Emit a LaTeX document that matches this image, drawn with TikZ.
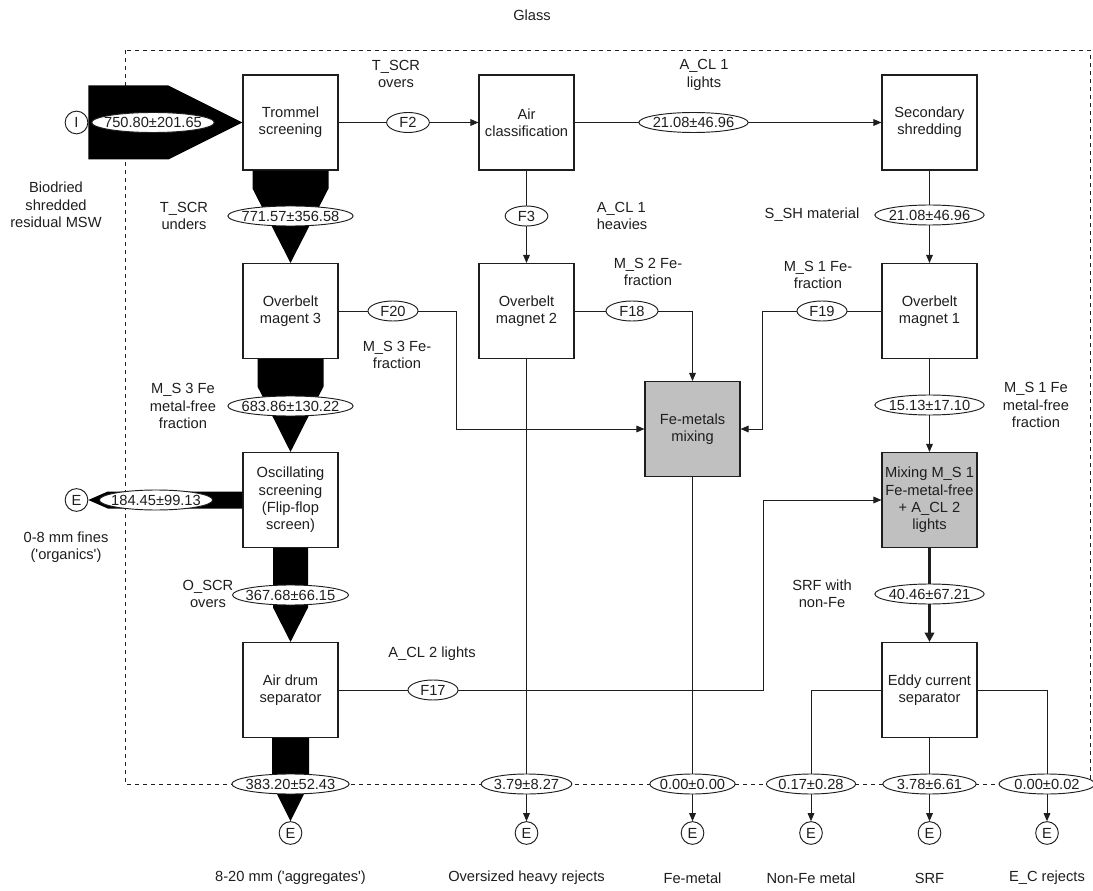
\documentclass[tikz,border=0pt]{standalone}
\usepackage{fontspec}
\setmainfont{Liberation Sans}
\usetikzlibrary{shapes.geometric,arrows.meta,calc}
\pgfdeclarelayer{background}
\pgfsetlayers{background,main}
\definecolor{boxgray}{RGB}{192,192,192}
\definecolor{ink}{RGB}{30,30,30}
\begin{document}
\begin{tikzpicture}[x=0.75pt,y=-0.75pt,
  every node/.style={font=\fontsize{11pt}{13pt}\selectfont, text=ink},
  unit/.style={draw=ink, line width=0.8pt, minimum width=71.25pt, minimum height=71.25pt, inner sep=1pt, align=center},
  mixer/.style={unit, fill=boxgray},
  flow/.style={ellipse, draw=ink, fill=white, line width=0.7pt, inner xsep=-25pt, inner ysep=0pt, minimum height=15pt, minimum width=#1},
  flow/.default=82pt,
  term/.style={circle, draw=ink, fill=white, line width=0.7pt, minimum size=17pt, inner sep=0pt},
  note/.style={align=center, inner sep=0pt},
  conn/.style={draw=ink, line width=0.7pt, line join=miter},
  tip/.style={-{Triangle[length=6pt,width=5pt]}},
  boundary/.style={draw=ink, line width=0.6pt, dash pattern=on 3pt off 3pt},
]
\path[use as bounding box] (0,0) rectangle (1093,891);

% process units
\node[unit] (trommel) at (290.5,122.5) {Trommel\\screening};
\node[unit] (aircl)   at (526.5,122.5) {Air\\classification};
\node[unit] (secshr)  at (929.5,122.5) {Secondary\\shredding};
\node[unit] (om3)     at (290.5,311) {Overbelt\\magent 3};
\node[unit] (om2)     at (526.5,311) {Overbelt\\magnet 2};
\node[unit] (om1)     at (929.5,311) {Overbelt\\magnet 1};
\node[mixer] (femix)  at (692.5,429) {Fe-metals\\mixing};
\node[unit] (osc)     at (290.5,500) {Oscillating\\screening\\(Flip-flop\\screen)};
\node[mixer] (mixsrf) at (929.5,500) {Mixing M\_S 1\\Fe-metal-free\\+ A\_CL 2\\lights};
\node[unit] (airdrum) at (290.5,690) {Air drum\\separator};
\node[unit] (eddy)    at (929.5,690) {Eddy current\\separator};

% input and exits
\node[term] (inI)    at (76.5,122.5) {I};
\node[term] (eFines) at (76.5,500) {E};
\node[term] (eAgg)   at (290.5,833) {E};
\node[term] (eHeavy) at (526.5,833) {E};
\node[term] (eFe)    at (692.5,833) {E};
\node[term] (eNonFe) at (811,833) {E};
\node[term] (eSRF)   at (929.5,833) {E};
\node[term] (eRej)   at (1047,833) {E};

% mass-flow bands of the main line
\fill ($(inI.east)+(0,-37)$) -- ($(trommel.west)+(-74,-37)$) -- (trommel.west)
      -- ($(trommel.west)+(-74,37)$) -- ($(inI.east)+(0,37)$) -- cycle;
\fill ($(trommel.south)+(-38,0)$) -- ($(trommel.south)+(38,0)$) -- ($(trommel.south)+(38,18)$)
      -- (om3.north) -- ($(trommel.south)+(-38,18)$) -- cycle;
\fill ($(om3.south)+(-33,0)$) -- ($(om3.south)+(33,0)$) -- ($(om3.south)+(33,27.5)$)
      -- (osc.north) -- ($(om3.south)+(-33,27.5)$) -- cycle;
\fill ($(osc.south)+(-17.5,0)$) -- ($(osc.south)+(17.5,0)$) -- ($(osc.south)+(17.5,59.5)$)
      -- (airdrum.north) -- ($(osc.south)+(-17.5,59.5)$) -- cycle;
\fill ($(airdrum.south)+(-18.5,0)$) -- ($(airdrum.south)+(18.5,0)$) -- ($(airdrum.south)+(18.5,46)$)
      -- (eAgg.north) -- ($(airdrum.south)+(-18.5,46)$) -- cycle;
\fill ($(osc.west)+(0,-8.5)$) -- ($(eFines.east)+(19.5,-8.5)$) -- (eFines.east)
      -- ($(eFines.east)+(19.5,8.5)$) -- ($(osc.west)+(0,8.5)$) -- cycle;

% flow values
\node[flow=92pt] (q750)  at (153,122.5) {750.80±201.65};
\node[flow=94pt] (q771)  at (290.5,216) {771.57±356.58};
\node[flow=94pt] (q683)  at (290.5,406) {683.86±130.22};
\node[flow=85pt] (q184)  at (156,500) {184.45±99.13};
\node[flow=87pt] (q367)  at (290.5,595) {367.68±66.15};
\node[flow=88pt] (q383)  at (290.5,784) {383.20±52.43};
\node[flow=32pt] (f2)    at (408,122.5) {F2};
\node[flow]      (q2108a) at (693.5,122.5) {21.08±46.96};
\node[flow=32pt] (f3)    at (526.5,216) {F3};
\node[flow]      (q2108b) at (929.5,215) {21.08±46.96};
\node[flow=37.5pt] (f20) at (393,311) {F20};
\node[flow=39pt] (f18)   at (632,311) {F18};
\node[flow=37.5pt] (f19) at (822,311) {F19};
\node[flow]      (q1513) at (929.5,405) {15.13±17.10};
\node[flow]      (q4046) at (929.5,594) {40.46±67.21};
\node[flow=37.5pt] (f17) at (433,690) {F17};
\node[flow=68pt] (q379)  at (526.5,784) {3.79±8.27};
\node[flow=64pt] (q000)  at (692.5,784) {0.00±0.00};
\node[flow=67pt] (q017)  at (811,784) {0.17±0.28};
\node[flow=70pt] (q378)  at (929.5,784) {3.78±6.61};
\node[flow=72pt] (q002)  at (1047,784) {0.00±0.02};

% stream names
\node[note] (tGlass)   at (532,15) {Glass};
\node[note] (tTover)   at (396,74) {T\_SCR\\overs};
\node[note] (tAlight)  at (704,75) {A\_CL 1\\lights};
\node[note] (tInput)   at (56,205) {Biodried\\shredded\\residual MSW};
\node[note] (tTunder)  at (184,216) {T\_SCR\\unders};
\node[note, align=left, anchor=west] (tAheavy) at (596.5,216) {A\_CL 1\\heavies};
\node[note] (tSSH)     at (812,215) {S\_SH material};
\node[note] (tMS2)     at (648,272) {M\_S 2 Fe-\\fraction};
\node[note] (tMS1)     at (818,275) {M\_S 1 Fe-\\fraction};
\node[note] (tMS3)     at (397,355) {M\_S 3 Fe-\\fraction};
\node[note] (tMS3free) at (183,406) {M\_S 3 Fe\\metal-free\\fraction};
\node[note] (tMS1free) at (1036,405) {M\_S 1 Fe\\metal-free\\fraction};
\node[note] (tFines)   at (66,547) {0-8 mm fines\\(\textquotesingle organics\textquotesingle)};
\node[note] (tOover)   at (208,594) {O\_SCR\\overs};
\node[note] (tSRFnon)  at (822,594) {SRF with\\non-Fe};
\node[note] (tAlight2) at (432,654) {A\_CL 2 lights};
\node[note] (tAgg)     at (290.5,878) {8-20 mm (\textquotesingle aggregates\textquotesingle)};
\node[note] (tHeavy)   at (526.5,878) {Oversized heavy rejects};
\node[note] (tFe)      at (692.5,878) {Fe-metal};
\node[note] (tNonFe)   at (811,878) {Non-Fe metal};
\node[note] (tSRF)     at (929.5,878) {SRF};
\node[note] (tRej)     at (1047,878) {E\_C rejects};

% system boundary and connectors, behind the value labels
\begin{pgfonlayer}{background}
  \draw[boundary] (125,50) rectangle (1090,784);
  \draw[conn,tip] (trommel.east) -- (aircl.west);
  \draw[conn,tip] (aircl.east) -- (secshr.west);
  \draw[conn,tip] (aircl.south) -- (om2.north);
  \draw[conn,tip] (secshr.south) -- (om1.north);
  \draw[conn,tip] (om3.east) -- ++(117.5,0) |- (femix.west);
  \draw[conn,tip] (om2.east) -| (femix.north);
  \draw[conn,tip] (om1.west) -- ++(-119,0) |- (femix.east);
  \draw[conn,tip] (om1.south) -- (mixsrf.north);
  \draw[conn,tip] (om2.south) -- (eHeavy.north);
  \draw[conn,tip] (femix.south) -- (eFe.north);
  \draw[conn, line width=2.4pt, -{Triangle[length=7pt,width=7pt]}] (mixsrf.south) -- (eddy.north);
  \draw[conn,tip] (airdrum.east) -- ++(425,0) |- (mixsrf.west);
  \draw[conn,tip] (eddy.west) -| (eNonFe.north);
  \draw[conn,tip] (eddy.south) -- (eSRF.north);
  \draw[conn,tip] (eddy.east) -| (eRej.north);
\end{pgfonlayer}
\end{tikzpicture}
\end{document}
